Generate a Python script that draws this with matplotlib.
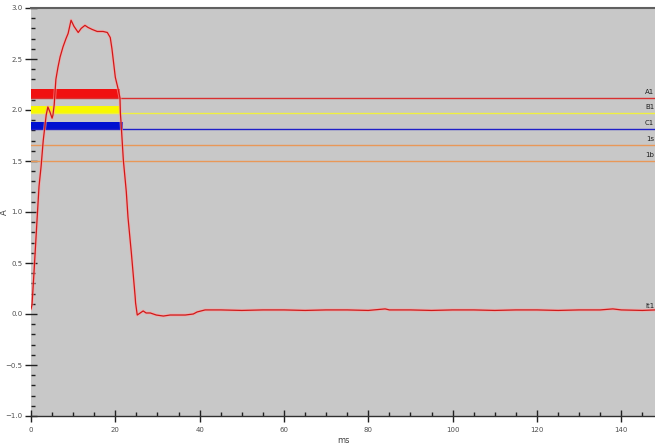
import matplotlib
matplotlib.use('Agg')
import matplotlib.pyplot as plt
from matplotlib.ticker import MultipleLocator

# current trace (ms, A)
t = [0.0, 0.24, 0.7, 1.4, 1.9, 2.4, 2.9, 3.6, 4.0, 4.5, 5.0, 5.2, 5.5, 5.9, 6.4,
     6.9, 7.6, 8.3, 8.8, 9.5, 10.2, 11.2, 11.9, 12.8, 13.5, 14.5, 15.7, 17.1,
     18.1, 18.8, 19.2, 20.0, 20.7, 21.1, 21.2, 21.4, 21.9, 22.6, 23.0, 23.8,
     24.7, 24.8, 25.2, 25.9, 26.6, 27.3, 28.3, 29.7, 31.4, 33.0, 34.7, 36.6,
     38.5, 39.4, 41.3, 45, 50, 55, 60, 65, 70, 75, 80, 84, 85, 90, 95, 100,
     105, 110, 115, 120, 125, 130, 135, 138, 140, 145, 148]
amp = [0.05, 0.09, 0.4, 0.9, 1.25, 1.45, 1.7, 1.95, 2.03, 1.98, 1.92, 1.95,
       2.05, 2.3, 2.42, 2.52, 2.62, 2.7, 2.75, 2.88, 2.82, 2.76, 2.80, 2.83,
       2.81, 2.79, 2.77, 2.77, 2.76, 2.71, 2.6, 2.32, 2.20, 2.12, 1.97, 1.85,
       1.51, 1.2, 0.95, 0.6, 0.17, 0.11, -0.01, 0.01, 0.03, 0.01, 0.01, -0.01,
       -0.02, -0.01, -0.01, -0.01, 0.0, 0.02, 0.04, 0.04, 0.035, 0.04, 0.04,
       0.035, 0.04, 0.04, 0.035, 0.05, 0.04, 0.04, 0.035, 0.04, 0.04, 0.035,
       0.04, 0.04, 0.035, 0.04, 0.04, 0.05, 0.04, 0.035, 0.04]

# limit lines
limit_names = ['A1', 'B1', 'C1', '1s', '1b']
limit_values = [2.12, 1.97, 1.81, 1.66, 1.50]
limit_colors = ['#d83030', '#f0f040', '#2020c8', '#e89858', '#e89858']

# thick bands at the start (bottom, top, end ms)
band_bottom = [2.11, 1.97, 1.81]
band_top = [2.21, 2.04, 1.88]
band_end = [21.1, 21.1, 21.8]
band_colors = ['#f01010', '#f8f800', '#0010d0']

fig = plt.figure(figsize=(6.55, 4.47), dpi=100)
ax = fig.add_axes([31 / 655, 31 / 447, 1 - 31 / 655, (416 - 8) / 447])
ax.set_facecolor('#c8c8c8')

for b, tp, e, c in zip(band_bottom, band_top, band_end, band_colors):
    ax.fill_between([0, e], b, tp, color=c, linewidth=0, zorder=2)

for name, v, c in zip(limit_names, limit_values, limit_colors):
    ax.axhline(v, color=c, linewidth=1, zorder=3)
    ax.text(147.8, v + 0.03, name, fontsize=5, color='#202020', va='bottom',
            ha='right', zorder=5)

ax.plot(t, amp, color='#ffa0a0', linewidth=2.2, alpha=0.6, zorder=3)
ax.plot(t, amp, color='#d01818', linewidth=0.9, zorder=4)
ax.text(147.8, 0.05, 'It1', fontsize=5, color='#202020', va='bottom',
        ha='right', zorder=5)

ax.set_xlim(0, 148)
ax.set_ylim(-1.0, 3.0)
ax.xaxis.set_major_locator(MultipleLocator(20))
ax.xaxis.set_minor_locator(MultipleLocator(5))
ax.yaxis.set_major_locator(MultipleLocator(0.5))
ax.yaxis.set_minor_locator(MultipleLocator(0.1))
ax.tick_params(which='major', direction='inout', length=8, width=1,
               labelsize=5, labelcolor='#505050', color='#202020')
ax.tick_params(which='minor', direction='in', length=3, width=1,
               color='#202020')
ax.tick_params(axis='x', pad=4)
ax.tick_params(axis='y', pad=2)

for s in ['right', 'left']:
    ax.spines[s].set_visible(False)
ax.spines['top'].set_color('#606060')
ax.spines['top'].set_linewidth(1.5)
ax.spines['bottom'].set_color('#303030')
ax.spines['bottom'].set_linewidth(1)

ax.set_xlabel('ms', fontsize=6, color='#404040', labelpad=2)
ax.set_ylabel('A', fontsize=6, color='#404040')
ax.yaxis.set_label_coords(-22 / 624, 0.5)

fig.savefig('out.png', dpi=100, facecolor='white')
